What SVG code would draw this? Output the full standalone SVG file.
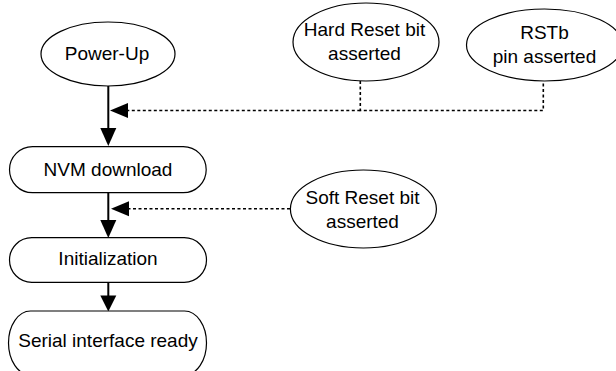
<svg xmlns="http://www.w3.org/2000/svg" width="616" height="371" viewBox="0 0 616 371">
<style>
  .node { fill: #ffffff; stroke: #000000; stroke-width: 1.2; }
  .label { font-family: "Liberation Sans", Arial, sans-serif; font-size: 19px; fill: #000000; text-anchor: middle; }
  .solid { stroke: #000000; stroke-width: 2; fill: none; }
  .dash { stroke: #000000; stroke-width: 1.6; fill: none; stroke-dasharray: 3 2.5; }
  .head { fill: #000000; stroke: none; }
</style>
<rect width="616" height="371" fill="#ffffff"/>
<g id="connectors">
  <line class="solid" x1="108.3" y1="86" x2="108.3" y2="130"/>
  <polygon class="head" points="100.3,128 116.3,128 108.3,146"/>
  <line class="solid" x1="108.3" y1="192.7" x2="108.3" y2="222"/>
  <polygon class="head" points="100.3,220 116.3,220 108.3,238"/>
  <line class="solid" x1="108.3" y1="282.3" x2="108.3" y2="297"/>
  <polygon class="head" points="100.3,295.5 116.3,295.5 108.3,311.5"/>
  <polyline class="dash" points="360.3,81 360.3,110.5 543.3,110.5 543.3,81"/>
  <line class="dash" x1="360.3" y1="110.5" x2="126" y2="110.5"/>
  <polygon class="head" points="110,110.5 128,103 128,118"/>
  <line class="dash" x1="290" y1="208.7" x2="127" y2="208.7"/>
  <polygon class="head" points="111,208.7 129,201.2 129,216.2"/>
</g>
<g id="power-up">
  <ellipse class="node" cx="108" cy="54" rx="67" ry="32"/>
  <text class="label" x="107" y="60">Power-Up</text>
</g>
<g id="nvm-download">
  <rect class="node" x="9.5" y="146.7" width="196.7" height="46" rx="23" ry="23"/>
  <text class="label" x="108" y="176">NVM download</text>
</g>
<g id="initialization">
  <rect class="node" x="9.5" y="237.7" width="197" height="44.6" rx="22.3" ry="22.3"/>
  <text class="label" x="108" y="265">Initialization</text>
</g>
<g id="serial-interface-ready">
  <rect class="node" x="8.5" y="311" width="198" height="64" rx="22" ry="32"/>
  <text class="label" x="108" y="346.7">Serial interface ready</text>
</g>
<g id="hard-reset">
  <ellipse class="node" cx="366" cy="42" rx="73" ry="39"/>
  <text class="label" x="364.5" y="35.7">Hard Reset bit</text>
  <text class="label" x="364.5" y="60">asserted</text>
</g>
<g id="rstb">
  <ellipse class="node" cx="544.5" cy="45" rx="78" ry="36"/>
  <text class="label" x="544.5" y="39">RSTb</text>
  <text class="label" x="544.5" y="63.3">pin asserted</text>
</g>
<g id="soft-reset">
  <ellipse class="node" cx="363.4" cy="209" rx="73" ry="39"/>
  <text class="label" x="362.5" y="204">Soft Reset bit</text>
  <text class="label" x="362.5" y="228.3">asserted</text>
</g>
</svg>
